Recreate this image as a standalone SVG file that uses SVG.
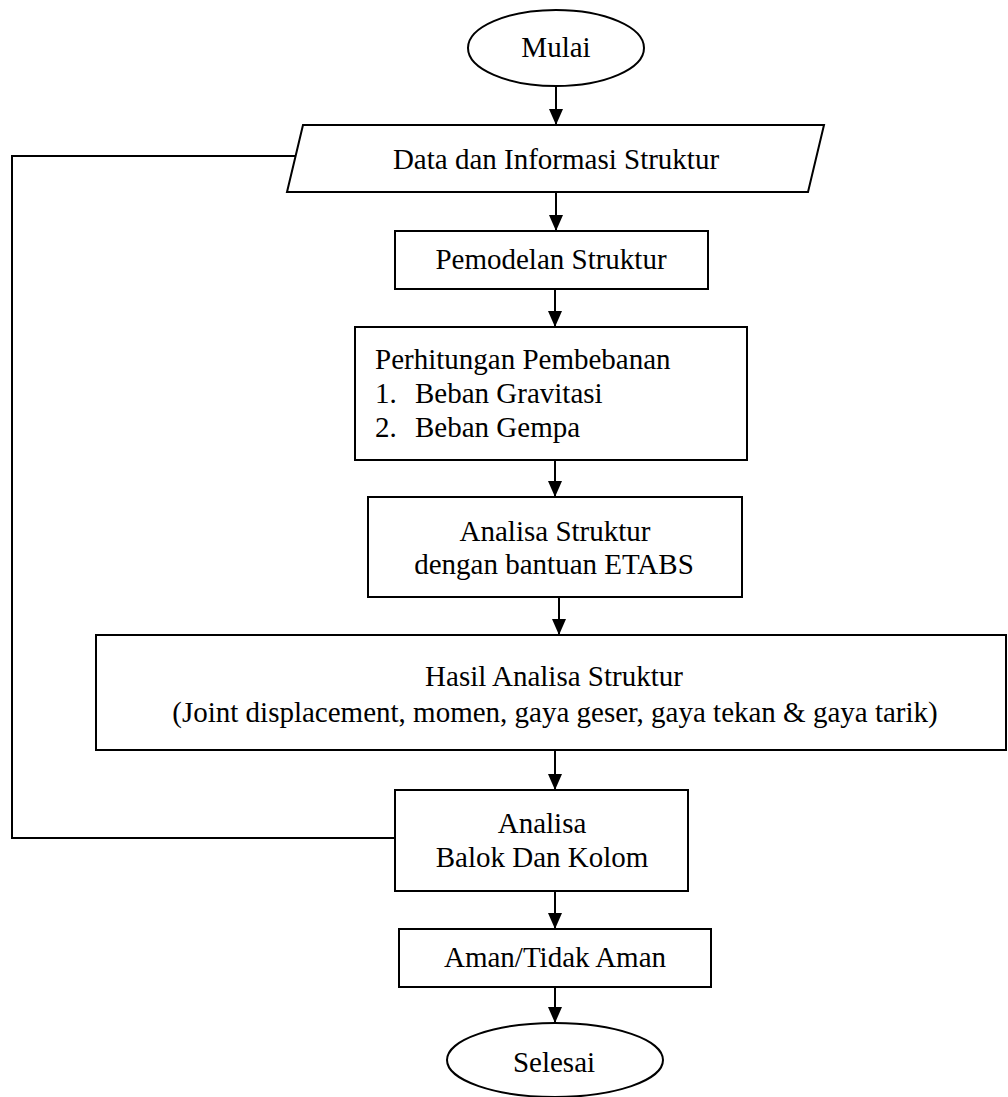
<svg xmlns="http://www.w3.org/2000/svg" width="1008" height="1097" viewBox="0 0 1008 1097">
<defs>
<style>
.s{fill:#fff;stroke:#000;stroke-width:2}
.t{font-family:"Liberation Serif","Times New Roman",serif;font-size:29px;fill:#000}
.c{text-anchor:middle}
.ln{fill:none;stroke:#000;stroke-width:2}
</style>
<marker id="ah" markerUnits="userSpaceOnUse" markerWidth="16" markerHeight="16" viewBox="0 0 16 16" refX="16" refY="8" orient="auto">
<path d="M0,1 L16,8 L0,15 Z" fill="#000"/>
</marker>
</defs>
<rect width="1008" height="1097" fill="#fff"/>
<g id="connectors">
<line class="ln" x1="556" y1="86" x2="556" y2="125" marker-end="url(#ah)"/>
<line class="ln" x1="556" y1="193" x2="556" y2="231" marker-end="url(#ah)"/>
<line class="ln" x1="555" y1="289" x2="555" y2="327" marker-end="url(#ah)"/>
<line class="ln" x1="555" y1="460" x2="555" y2="497" marker-end="url(#ah)"/>
<line class="ln" x1="559" y1="597" x2="559" y2="635" marker-end="url(#ah)"/>
<line class="ln" x1="555" y1="750" x2="555" y2="790" marker-end="url(#ah)"/>
<line class="ln" x1="555" y1="891" x2="555" y2="929" marker-end="url(#ah)"/>
<line class="ln" x1="555" y1="987" x2="555" y2="1023" marker-end="url(#ah)"/>
<polyline class="ln" points="395,838 12,838 12,156 296,156"/>
</g>
<g id="mulai">
<ellipse class="s" cx="556" cy="48" rx="88" ry="38"/>
<text class="t c" x="556" y="57">Mulai</text>
</g>
<g id="data">
<polygon class="s" points="303,125 824,125 808,192 287,192"/>
<text class="t c" x="556" y="169">Data dan Informasi Struktur</text>
</g>
<g id="pemodelan">
<rect class="s" x="395" y="231" width="313" height="58"/>
<text class="t c" x="551" y="269">Pemodelan Struktur</text>
</g>
<g id="perhitungan">
<rect class="s" x="355" y="327" width="392" height="133"/>
<text class="t" x="375" y="369">Perhitungan Pembebanan</text>
<text class="t" x="375" y="403">1.</text>
<text class="t" x="415" y="403">Beban Gravitasi</text>
<text class="t" x="375" y="437">2.</text>
<text class="t" x="415" y="437">Beban Gempa</text>
</g>
<g id="analisa-struktur">
<rect class="s" x="368" y="497" width="374" height="100"/>
<text class="t c" x="555" y="541">Analisa Struktur</text>
<text class="t c" x="554" y="574">dengan bantuan ETABS</text>
</g>
<g id="hasil">
<rect class="s" x="96" y="635" width="910" height="115"/>
<text class="t c" x="554" y="686">Hasil Analisa Struktur</text>
<text class="t c" x="555" y="722">(Joint displacement, momen, gaya geser, gaya tekan &amp; gaya tarik)</text>
</g>
<g id="analisa-balok">
<rect class="s" x="395" y="790" width="293" height="101"/>
<text class="t c" x="542" y="833">Analisa</text>
<text class="t c" x="542" y="867">Balok Dan Kolom</text>
</g>
<g id="aman">
<rect class="s" x="399" y="929" width="312" height="58"/>
<text class="t c" x="555" y="967">Aman/Tidak Aman</text>
</g>
<g id="selesai">
<ellipse class="s" cx="555" cy="1060" rx="108" ry="37"/>
<text class="t c" x="554" y="1072">Selesai</text>
</g>
</svg>
